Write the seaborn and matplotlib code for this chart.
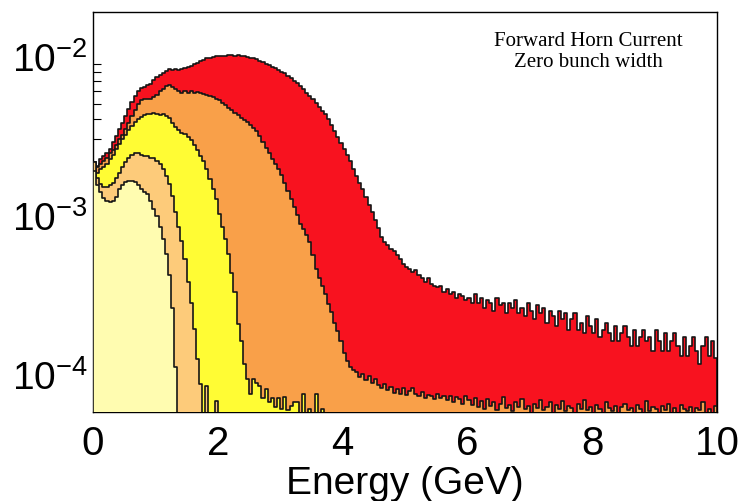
import numpy as np
import pandas as pd
import matplotlib
matplotlib.use("Agg")
import matplotlib.pyplot as plt
import seaborn as sns

bin_width = 0.05  # GeV

red = [
    2.15e-3, 2.05e-3, 2.26e-3, 2.36e-3, 2.47e-3, 2.61e-3, 2.90e-3, 3.15e-3, 3.49e-3, 3.80e-3,
    4.22e-3, 4.67e-3, 5.17e-3, 5.64e-3, 6.06e-3, 6.33e-3, 6.42e-3, 6.61e-3, 6.71e-3, 7.05e-3,
    7.40e-3, 7.60e-3, 7.80e-3, 8.10e-3, 8.30e-3, 8.20e-3, 8.30e-3, 8.25e-3, 8.30e-3, 8.40e-3,
    8.50e-3, 8.70e-3, 8.90e-3, 9.10e-3, 9.30e-3, 9.50e-3, 9.70e-3, 9.80e-3, 9.90e-3, 1.00e-2,
    1.00e-2, 1.01e-2, 1.00e-2, 1.02e-2, 1.02e-2, 1.01e-2, 1.02e-2, 1.00e-2, 1.00e-2, 9.90e-3,
    9.80e-3, 9.70e-3, 9.60e-3, 9.40e-3, 9.20e-3, 9.00e-3, 8.80e-3, 8.60e-3, 8.40e-3, 8.20e-3,
    8.00e-3, 7.80e-3, 7.50e-3, 7.30e-3, 7.00e-3, 6.80e-3, 6.50e-3, 6.20e-3, 5.90e-3, 5.60e-3,
    5.40e-3, 5.10e-3, 4.80e-3, 4.55e-3, 4.30e-3, 4.00e-3, 3.70e-3, 3.40e-3, 3.10e-3, 2.85e-3,
    2.60e-3, 2.40e-3, 2.20e-3, 1.95e-3, 1.75e-3, 1.60e-3, 1.45e-3, 1.30e-3, 1.15e-3, 1.05e-3,
    9.3e-4, 8.3e-4, 7.3e-4, 6.8e-4, 6.5e-4, 6.1e-4, 5.9e-4, 5.6e-4, 5.3e-4, 4.9e-4,
    4.7e-4, 4.6e-4, 4.4e-4, 4.5e-4, 4.2e-4, 4.0e-4, 3.8e-4, 4.0e-4, 3.7e-4, 3.6e-4,
    3.5e-4, 3.6e-4, 3.3e-4, 3.4e-4, 3.2e-4, 3.3e-4, 3.0e-4, 3.2e-4, 3.1e-4, 2.9e-4,
    3.0e-4, 2.8e-4, 3.2e-4, 2.8e-4, 3.0e-4, 2.6e-4, 2.9e-4, 2.8e-4, 2.5e-4, 3.0e-4,
    2.7e-4, 2.8e-4, 2.4e-4, 2.8e-4, 2.6e-4, 2.9e-4, 2.4e-4, 2.6e-4, 2.3e-4, 2.8e-4,
    2.5e-4, 2.2e-4, 2.7e-4, 2.4e-4, 2.6e-4, 2.1e-4, 2.5e-4, 2.3e-4, 2.0e-4, 2.5e-4,
    2.2e-4, 2.4e-4, 1.9e-4, 2.2e-4, 2.4e-4, 1.9e-4, 2.1e-4, 1.8e-4, 2.3e-4, 2.0e-4,
    1.8e-4, 2.2e-4, 1.7e-4, 1.9e-4, 2.1e-4, 1.8e-4, 1.6e-4, 2.0e-4, 1.6e-4, 1.8e-4,
    2.0e-4, 1.7e-4, 1.5e-4, 1.9e-4, 1.5e-4, 1.7e-4, 1.9e-4, 1.6e-4, 1.7e-4, 1.4e-4,
    1.9e-4, 1.6e-4, 1.4e-4, 1.8e-4, 1.4e-4, 1.6e-4, 1.8e-4, 1.5e-4, 1.3e-4, 1.7e-4,
    1.3e-4, 1.5e-4, 1.7e-4, 1.4e-4, 1.15e-4, 1.5e-4, 1.7e-4, 1.3e-4, 1.6e-4, 1.25e-4,
]

orange = [
    2.15e-3, 2.00e-3, 2.10e-3, 2.20e-3, 2.30e-3, 2.45e-3, 2.55e-3, 2.75e-3, 3.00e-3, 3.20e-3,
    3.50e-3, 3.80e-3, 4.20e-3, 4.60e-3, 5.00e-3, 5.30e-3, 5.40e-3, 5.40e-3, 5.40e-3, 5.50e-3,
    5.70e-3, 6.00e-3, 6.25e-3, 6.50e-3, 6.60e-3, 6.40e-3, 6.20e-3, 6.00e-3, 5.90e-3, 6.00e-3,
    5.90e-3, 6.00e-3, 5.90e-3, 5.95e-3, 5.90e-3, 5.80e-3, 5.70e-3, 5.60e-3, 5.50e-3, 5.40e-3,
    5.30e-3, 5.10e-3, 4.90e-3, 4.75e-3, 4.60e-3, 4.40e-3, 4.25e-3, 4.10e-3, 3.95e-3, 3.85e-3,
    3.70e-3, 3.55e-3, 3.40e-3, 3.15e-3, 2.90e-3, 2.65e-3, 2.45e-3, 2.25e-3, 2.10e-3, 1.95e-3,
    1.80e-3, 1.60e-3, 1.42e-3, 1.26e-3, 1.12e-3, 1.00e-3, 8.8e-4, 8.2e-4, 7.5e-4, 6.8e-4,
    5.6e-4, 4.6e-4, 4.0e-4, 3.6e-4, 3.2e-4, 2.75e-4, 2.45e-4, 2.1e-4, 1.85e-4, 1.6e-4,
    1.35e-4, 1.2e-4, 1.1e-4, 1.05e-4, 1.02e-4, 9.5e-5, 1.0e-4, 9.2e-5, 9.7e-5, 8.8e-5,
    9.3e-5, 8.5e-5, 8.2e-5, 8.6e-5, 7.9e-5, 8.3e-5, 7.6e-5, 8.0e-5, 7.5e-5, 8.1e-5,
    7.4e-5, 7.8e-5, 8.2e-5, 7.5e-5, 7.2e-5, 7.7e-5, 7.0e-5, 7.4e-5, 7.2e-5, 6.9e-5,
    7.5e-5, 7.0e-5, 7.3e-5, 6.8e-5, 7.2e-5, 6.6e-5, 7.1e-5, 6.9e-5, 6.5e-5, 7.2e-5,
    6.8e-5, 6.4e-5, 7.0e-5, 6.2e-5, 6.7e-5, 6.0e-5, 6.9e-5, 6.3e-5, 6.6e-5, 5.9e-5,
    6.5e-5, 7.1e-5, 6.1e-5, 6.4e-5, 5.8e-5, 6.6e-5, 6.2e-5, 6.9e-5, 6.0e-5, 6.3e-5,
    5.7e-5, 6.5e-5, 6.1e-5, 6.8e-5, 5.9e-5, 6.2e-5, 6.6e-5, 5.6e-5, 6.4e-5, 6.0e-5,
    6.7e-5, 5.8e-5, 6.3e-5, 6.1e-5, 5.5e-5, 6.5e-5, 6.0e-5, 6.8e-5, 5.9e-5, 6.2e-5,
    5.7e-5, 6.4e-5, 6.0e-5, 5.6e-5, 6.6e-5, 6.1e-5, 5.8e-5, 6.3e-5, 5.5e-5, 6.2e-5,
    6.5e-5, 5.9e-5, 6.1e-5, 5.6e-5, 6.4e-5, 6.0e-5, 5.7e-5, 6.7e-5, 5.8e-5, 6.2e-5,
    6.0e-5, 5.5e-5, 6.3e-5, 5.9e-5, 6.5e-5, 5.7e-5, 6.1e-5, 5.6e-5, 6.4e-5, 6.0e-5,
    5.8e-5, 6.2e-5, 5.5e-5, 6.1e-5, 5.9e-5, 6.6e-5, 5.7e-5, 6.0e-5, 5.6e-5, 6.3e-5,
]

yellow = [
    2.15e-3, 1.85e-3, 1.95e-3, 2.00e-3, 2.10e-3, 2.25e-3, 2.40e-3, 2.60e-3, 2.80e-3, 3.00e-3,
    3.20e-3, 3.45e-3, 3.65e-3, 3.85e-3, 4.00e-3, 4.15e-3, 4.25e-3, 4.35e-3, 4.30e-3, 4.40e-3,
    4.35e-3, 4.25e-3, 4.30e-3, 4.20e-3, 4.10e-3, 3.80e-3, 3.60e-3, 3.45e-3, 3.30e-3, 3.25e-3,
    3.10e-3, 2.95e-3, 2.75e-3, 2.55e-3, 2.35e-3, 2.20e-3, 1.95e-3, 1.69e-3, 1.46e-3, 1.26e-3,
    1.02e-3, 8.4e-4, 7.1e-4, 5.7e-4, 4.3e-4, 3.3e-4, 2.06e-4, 1.6e-4, 1.15e-4, 9.3e-5,
    7.5e-5, 9.3e-5, 8.8e-5, 8.4e-5, 7.0e-5, 8.0e-5, 6.6e-5, 7.0e-5, 6.2e-5, 7.0e-5,
    6.0e-5, 7.1e-5, 5.9e-5, 6.3e-5, 6.6e-5, 6.6e-5, 5.5e-5, 7.5e-5, 5.0e-5, 6.0e-5,
    5.0e-5, 7.5e-5, 5.0e-5, 6.0e-5,
]

peach = [
    2.15e-3, 1.70e-3, 1.58e-3, 1.50e-3, 1.50e-3, 1.55e-3, 1.60e-3, 1.70e-3, 1.85e-3, 2.00e-3,
    2.15e-3, 2.30e-3, 2.40e-3, 2.45e-3, 2.45e-3, 2.40e-3, 2.35e-3, 2.35e-3, 2.30e-3, 2.30e-3,
    2.20e-3, 2.10e-3, 1.95e-3, 1.77e-3, 1.57e-3, 1.32e-3, 1.05e-3, 8.4e-4, 6.9e-4, 5.3e-4,
    3.8e-4, 2.8e-4, 1.92e-4, 1.24e-4, 8.6e-5, 5.0e-5, 8.4e-5, 5.0e-5, 5.0e-5, 6.7e-5,
]

light_yellow = [
    1.90e-3, 1.55e-3, 1.40e-3, 1.28e-3, 1.22e-3, 1.20e-3, 1.22e-3, 1.30e-3, 1.45e-3, 1.55e-3,
    1.62e-3, 1.65e-3, 1.65e-3, 1.62e-3, 1.55e-3, 1.46e-3, 1.40e-3, 1.36e-3, 1.23e-3, 1.09e-3,
    9.9e-4, 8.4e-4, 7.1e-4, 5.7e-4, 4.2e-4, 2.6e-4, 1.1e-4,
]

x_ticks = [0, 2, 4, 6, 8, 10]
y_ticks = [1e-4, 1e-3, 1e-2]
y_tick_labels = ["$10^{-4}$", "$10^{-3}$", "$10^{-2}$"]
annotation = "Forward Horn Current\nZero bunch width"
x_title = "Energy (GeV)"

sns.set_style("white")
plt.rcParams["font.family"] = ["Liberation Sans", "DejaVu Sans"]
plt.rcParams["mathtext.fontset"] = "custom"
plt.rcParams["mathtext.rm"] = "Liberation Sans"
plt.rcParams["mathtext.it"] = "Liberation Sans:italic"
plt.rcParams["mathtext.bf"] = "Liberation Sans:bold"
plt.rcParams["text.color"] = "black"
plt.rcParams["axes.labelcolor"] = "black"
plt.rcParams["xtick.color"] = "black"
plt.rcParams["ytick.color"] = "black"

fig = plt.figure(figsize=(7.38, 5.02), dpi=100)
ax = fig.add_axes([93 / 738, 89 / 502, (717 - 93) / 738, (413 - 13) / 502])

series = [
    (red, "#F8121F"),
    (orange, "#F9A049"),
    (yellow, "#FFFC34"),
    (peach, "#FDCB7A"),
    (light_yellow, "#FFFCB0"),
]
for k, (vals, col) in enumerate(series):
    n = len(vals)
    edges = [round(i * bin_width, 4) for i in range(n + 1)]
    centers = [round((i + 0.5) * bin_width, 4) for i in range(n)]
    df = pd.DataFrame({"E": centers, "w": vals})
    sns.histplot(data=df, x="E", weights="w", bins=edges, element="step",
                 fill=True, color=col, alpha=1, edgecolor="#161616",
                 linewidth=1.2, ax=ax, zorder=2 + k)

ax.set_yscale("log")
ax.set_xlim(0, 10)
ax.set_ylim(5.75e-5, 1.9e-2)
ax.set_axisbelow(True)
for side in ["left", "bottom"]:
    ax.spines[side].set_zorder(0.5)
for side in ["top", "right"]:
    ax.spines[side].set_zorder(20)
for s in ax.spines.values():
    s.set_linewidth(1.0)
    s.set_color("black")

ax.set_xticks(x_ticks)
ax.set_xticklabels([str(v) for v in x_ticks])
ax.set_yticks(y_ticks)
ax.set_yticklabels(y_tick_labels)
ax.yaxis.set_minor_locator(matplotlib.ticker.LogLocator(base=10, subs=np.arange(2, 10)))
ax.yaxis.set_minor_formatter(matplotlib.ticker.NullFormatter())
ax.tick_params(axis="both", which="major", direction="in", labelsize=28,
               length=12.2, width=0.8, color="black", labelcolor="black")
ax.tick_params(axis="y", which="minor", direction="in", length=6.1, width=0.8,
               left=True)
ax.tick_params(axis="y", which="major", pad=4)
ax.tick_params(axis="x", which="major", pad=9, labelsize=29)
ax.set_xlabel(x_title, fontsize=28, labelpad=2, color="black")
ax.set_ylabel("")

fig.text(588 / 738, 1 - 52 / 502, annotation, ha="center", va="center",
         family="Liberation Serif", fontsize=15, linespacing=1.1, color="black")

fig.savefig("out.png", dpi=100)
